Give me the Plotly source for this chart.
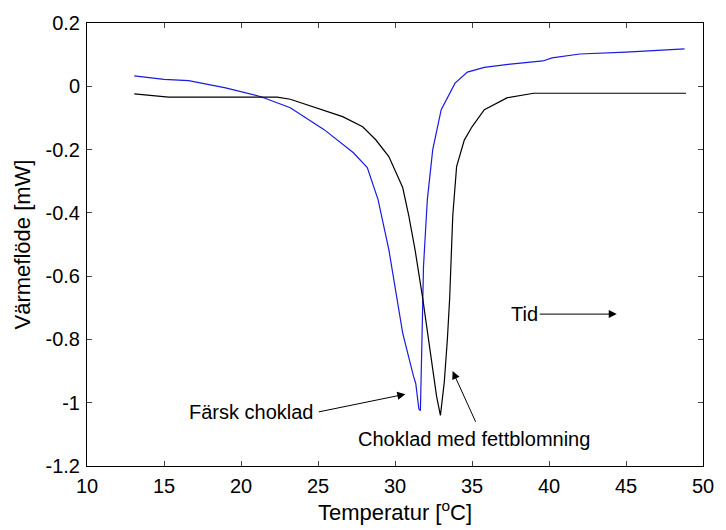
import plotly.graph_objects as go

# Data
fresh_x = [13.07, 15.0, 16.6, 19.0, 21.3, 23.2, 25.4, 27.3, 28.2, 28.9, 29.6, 30.5, 31.2, 31.35,
           31.55, 31.65, 31.76, 31.85, 32.1, 32.45, 33.0, 33.9, 34.7, 35.8, 37.5, 39.6, 40.2,
           42.0, 45.0, 48.8]
fresh_y = [0.033, 0.022, 0.018, -0.005, -0.033, -0.068, -0.137, -0.21, -0.257, -0.358, -0.516,
           -0.78, -0.916, -0.94, -1.02, -1.025, -0.78, -0.57, -0.358, -0.2, -0.074, 0.01, 0.045,
           0.06, 0.07, 0.08, 0.09, 0.102, 0.108, 0.118]

bloom_x = [13.07, 15.3, 18.0, 22.35, 23.2, 24.7, 26.6, 27.9, 28.75, 29.6, 30.5, 30.9, 31.3,
           31.8, 32.4, 32.7, 32.95, 33.2, 33.4, 33.55, 33.75, 34.0, 34.5, 35.0, 35.8, 37.3, 39.0,
           48.9]
bloom_y = [-0.024, -0.034, -0.034, -0.034, -0.041, -0.066, -0.096, -0.128, -0.169, -0.222,
           -0.32, -0.41, -0.516, -0.67, -0.885, -0.98, -1.04, -0.935, -0.8, -0.67, -0.41, -0.254,
           -0.17, -0.128, -0.074, -0.036, -0.022, -0.022]

x_ticks = [10, 15, 20, 25, 30, 35, 40, 45, 50]
y_ticks = [0.2, 0, -0.2, -0.4, -0.6, -0.8, -1, -1.2]
y_tick_labels = ["0.2", "0", "-0.2", "-0.4", "-0.6", "-0.8", "-1", "-1.2"]

FONT = "Liberation Sans, Arial, sans-serif"

fig = go.Figure()
fig.add_trace(go.Scatter(x=fresh_x, y=fresh_y, mode="lines",
                         line=dict(color="#1a1ae0", width=1.2), showlegend=False))
fig.add_trace(go.Scatter(x=bloom_x, y=bloom_y, mode="lines",
                         line=dict(color="#000000", width=1.2), showlegend=False))

annotations = [
    # text labels
    dict(x=24.85, y=-1.03, text="Färsk choklad", showarrow=False, xanchor="right",
         yanchor="middle", font=dict(size=20, color="black", family=FONT)),
    dict(x=35.15, y=-1.115, text="Choklad med fettblomning", showarrow=False,
         xanchor="center", yanchor="middle", font=dict(size=20, color="black", family=FONT)),
    dict(x=37.4, y=-0.72, text="Tid", showarrow=False, xanchor="left", yanchor="middle",
         font=dict(size=20, color="black", family=FONT)),
    # arrows
    dict(x=30.67, y=-0.973, ax=24.95, ay=-1.03, axref="x", ayref="y", xref="x", yref="y",
         text="", showarrow=True, arrowhead=2, arrowsize=1.6, arrowwidth=1, arrowcolor="black"),
    dict(x=33.74, y=-0.90, ax=35.28, ay=-1.065, axref="x", ayref="y", xref="x", yref="y",
         text="", showarrow=True, arrowhead=2, arrowsize=1.6, arrowwidth=1, arrowcolor="black"),
    dict(x=44.4, y=-0.72, ax=39.3, ay=-0.72, axref="x", ayref="y", xref="x", yref="y",
         text="", showarrow=True, arrowhead=2, arrowsize=1.6, arrowwidth=1, arrowcolor="black"),
]

fig.update_layout(
    width=726, height=530,
    margin=dict(l=87, r=14, t=23, b=64),
    paper_bgcolor="white", plot_bgcolor="white",
    font=dict(family=FONT, size=20, color="black"),
    annotations=annotations,
    xaxis=dict(range=[10, 50], tickvals=x_ticks, ticks="inside", ticklen=5,
               showline=True, linecolor="black", linewidth=1, mirror="ticks",
               showgrid=False, zeroline=False, tickfont=dict(size=20), ticklabelstandoff=2,
               title=dict(text="Temperatur [<sup>o</sup>C]", font=dict(size=22), standoff=2)),
    yaxis=dict(range=[-1.2, 0.2], tickvals=y_ticks, ticktext=y_tick_labels, ticks="inside",
               ticklen=5, showline=True, linecolor="black", linewidth=1, mirror="ticks",
               showgrid=False, zeroline=False, tickfont=dict(size=20), ticklabelstandoff=2,
               title=dict(text="Värmeflöde [mW]", font=dict(size=22), standoff=8)),
)

fig.write_html("out.html")
